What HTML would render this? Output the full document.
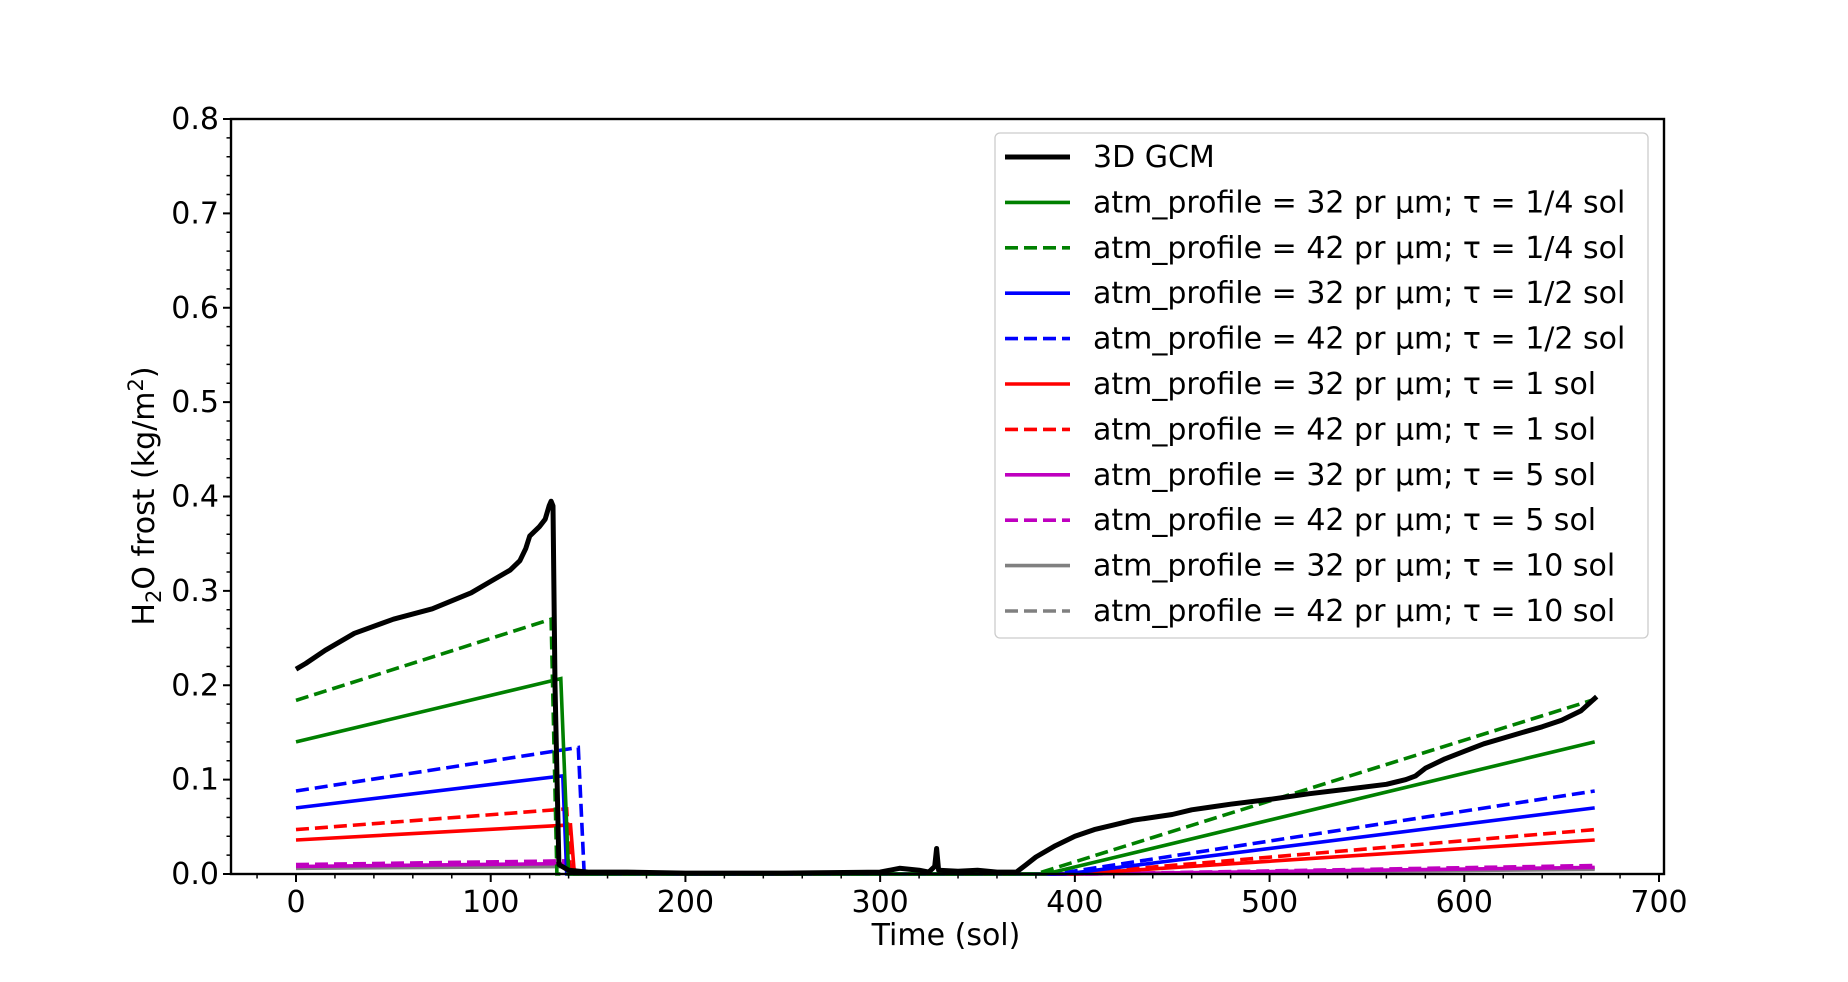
<!DOCTYPE html>
<html><head><meta charset="utf-8"><style>
html,body{margin:0;padding:0;background:#fff;}
svg{display:block;font-family:"DejaVu Sans","Liberation Sans",sans-serif;}
</style></head><body>
<svg id="chart" width="1848" height="982" viewBox="0 0 1848 982" xmlns="http://www.w3.org/2000/svg">
<rect width="1848" height="982" fill="#fff"/>
<g id="plot"></g>
<g id="axes"></g>
<text x="946" y="945" font-size="30" text-anchor="middle">Time (sol)</text>
<text transform="translate(154,496) rotate(-90)" font-size="30" text-anchor="middle">H<tspan font-size="21" dy="7">2</tspan><tspan dy="-7">O frost (kg/m</tspan><tspan font-size="21" dy="-11">2</tspan><tspan dy="11">)</tspan></text>
<g id="legend"></g>
</svg>
<script>
const xTicks=[0,100,200,300,400,500,600,700];
const yTicks=[0.0,0.1,0.2,0.3,0.4,0.5,0.6,0.7,0.8];
const gcmX=[0,5,15,30,50,70,90,100,110,115,118,120,125,128,130,131,132,133,135,140,150,170,200,250,300,310,320,325,328,329,330,340,350,360,370,375,380,390,400,410,420,430,440,450,460,470,480,500,520,540,560,570,575,580,590,600,610,620,630,640,650,660,668];
const gcmY=[0.217,0.223,0.237,0.255,0.27,0.281,0.298,0.31,0.322,0.332,0.345,0.358,0.368,0.376,0.39,0.395,0.39,0.2,0.01,0.004,0.002,0.002,0.001,0.001,0.002,0.006,0.004,0.002,0.008,0.027,0.004,0.003,0.004,0.002,0.002,0.01,0.018,0.03,0.04,0.047,0.052,0.057,0.06,0.063,0.068,0.071,0.074,0.079,0.085,0.09,0.095,0.1,0.104,0.112,0.122,0.13,0.138,0.144,0.15,0.156,0.163,0.173,0.188];
const seriesNames=["atm_profile = 32 pr µm; τ = 1/4 sol","atm_profile = 42 pr µm; τ = 1/4 sol","atm_profile = 32 pr µm; τ = 1/2 sol","atm_profile = 42 pr µm; τ = 1/2 sol","atm_profile = 32 pr µm; τ = 1 sol","atm_profile = 42 pr µm; τ = 1 sol","atm_profile = 32 pr µm; τ = 5 sol","atm_profile = 42 pr µm; τ = 5 sol","atm_profile = 32 pr µm; τ = 10 sol","atm_profile = 42 pr µm; τ = 10 sol"];
const colors=["#008000","#008000","#0000ff","#0000ff","#ff0000","#ff0000","#bf00bf","#bf00bf","#808080","#808080"];
const dashed=[false,true,false,true,false,true,false,true,false,true];
const startVal=[0.14,0.184,0.07,0.088,0.036,0.047,0.008,0.010,0.006,0.007];
const peakVal=[0.207,0.27,0.104,0.134,0.052,0.069,0.011,0.014,0.008,0.009];
const peakT=[136,131,137,145,141,139,140,140,142,142];
const dropT=[140,134,139,148,143,141,143,143,145,145];
const regrowT=[385,380,395,390,400,398,405,405,405,405];
const endVal=[0.14,0.185,0.07,0.088,0.036,0.047,0.007,0.009,0.005,0.006];
const endT=667;

const NS="http://www.w3.org/2000/svg";
const L=231,R=1664,T=119,B=874;
const x0=296,x700=1659;
const sx=v=>x0+v*(x700-x0)/700;
const sy=v=>B-v*(B-T)/0.8;
function mk(tag,attrs,parent){const e=document.createElementNS(NS,tag);for(const k in attrs)e.setAttribute(k,attrs[k]);parent.appendChild(e);return e;}
const plot=document.getElementById('plot'),axes=document.getElementById('axes'),leg=document.getElementById('legend');
const LW=3.6, LWB=5;
for(let i=seriesNames.length-1;i>=0;i--){
  const xs=[0,peakT[i],dropT[i],regrowT[i],endT];
  const ys=[startVal[i],peakVal[i],0,0,endVal[i]];
  const d=xs.map((v,j)=>(j?'L':'M')+sx(v).toFixed(1)+','+sy(ys[j]).toFixed(1)).join('');
  const p=mk('path',{d:d,fill:'none',stroke:colors[i],'stroke-width':LW,'stroke-dasharray':dashed[i]?'13,6':'none'},plot);
  
  
}
const gd=gcmX.map((v,j)=>(j?'L':'M')+sx(v).toFixed(1)+','+sy(gcmY[j]).toFixed(1)).join('');
const gp=mk('path',{d:gd,fill:'none',stroke:'#000','stroke-width':LWB,'stroke-linejoin':'round'},plot);



const fr=mk('rect',{x:L,y:T,width:R-L,height:B-T,fill:'none',stroke:'#000','stroke-width':2.4},axes);


for(let v=-20;v<=700;v+=20){
  const x=sx(v); if(x<L||x>R)continue;
  const major=v%100===0;
  mk('line',{x1:x,x2:x,y1:B,y2:B+(major?8:4.5),stroke:'#000','stroke-width':major?2:1.5},axes);
}
xTicks.forEach(v=>{
  const t=mk('text',{x:sx(v),y:B+38,'font-size':30,'text-anchor':'middle'},axes);
  t.textContent=v;
  
  
});
for(let k=0;k<=40;k++){
  const v=k*0.02,y=sy(v),major=k%5===0;
  mk('line',{x1:L,x2:L-(major?8:4.5),y1:y,y2:y,stroke:'#000','stroke-width':major?2:1.5},axes);
}
yTicks.forEach(v=>{
  const t=mk('text',{x:L-12,y:sy(v)+10,'font-size':30,'text-anchor':'end'},axes);
  t.textContent=v.toFixed(1);
  
  
});

const lb=mk('rect',{x:995,y:133,width:653,height:505,rx:5,fill:'#fff','fill-opacity':0.8,stroke:'#ccc','stroke-width':1.3},leg);


const labels=["3D GCM"].concat(seriesNames);
labels.forEach((lab,i)=>{
  const y=157+i*45.4;
  const g=mk('g',{},leg);
  
  
  const col=i?colors[i-1]:'#000';
  mk('line',{x1:1005,x2:1070,y1:y,y2:y,stroke:col,'stroke-width':i?LW:LWB,'stroke-dasharray':(i&&dashed[i-1])?'13,6':'none'},g);
  const t=mk('text',{x:1093,y:y+10,'font-size':30},g);
  t.textContent=lab;
});
</script>
</body></html>
